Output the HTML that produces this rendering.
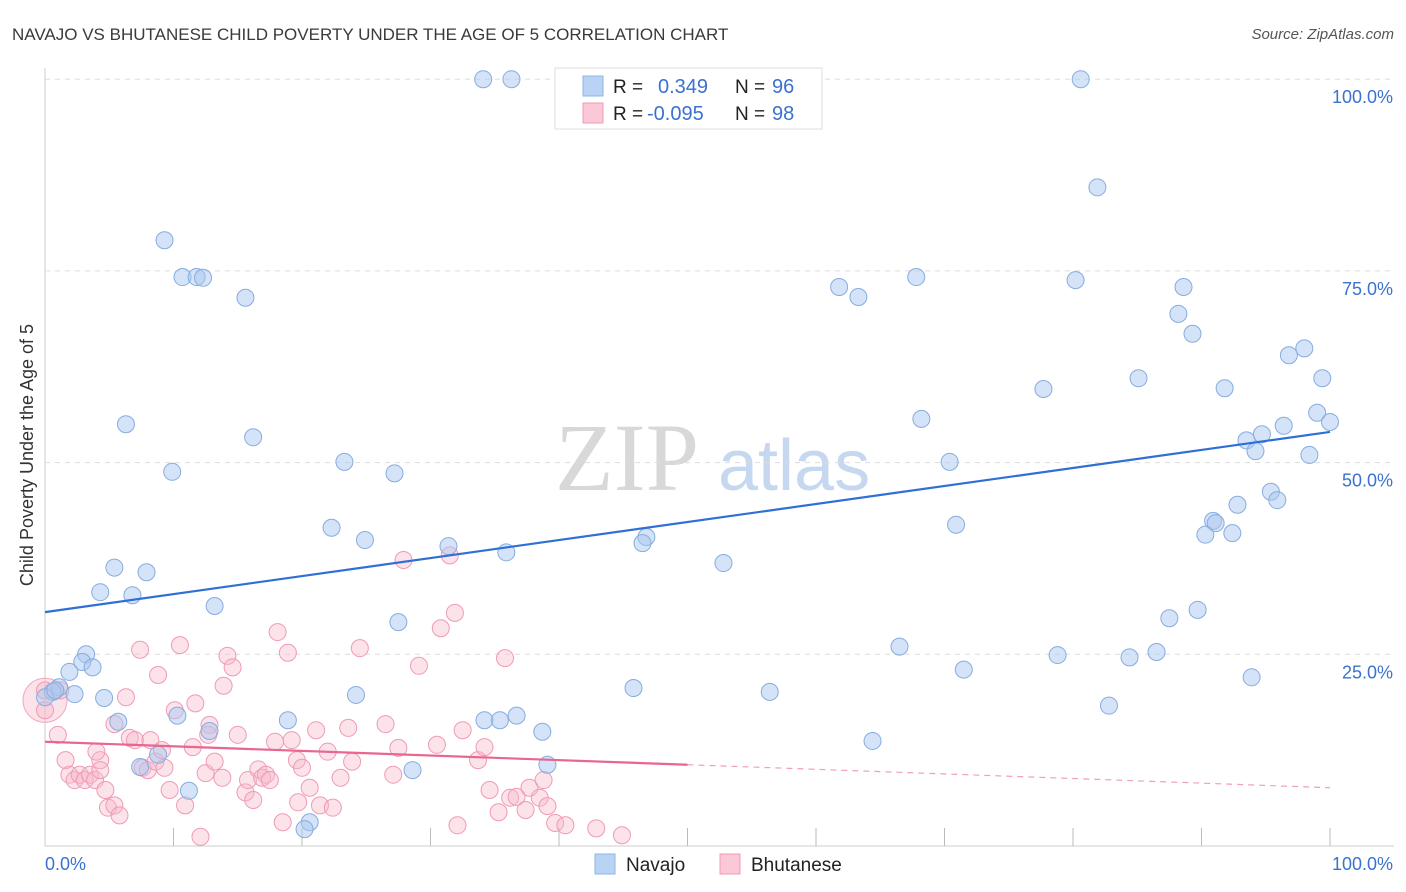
<!DOCTYPE html>
<html><head><meta charset="utf-8">
<style>
body{margin:0;background:#fff;font-family:"Liberation Sans",sans-serif;}
svg{display:block}
</style></head>
<body>
<svg id="chart" width="1406" height="892">
<text x="12" y="40" font-size="17" fill="#3a3a3a">NAVAJO VS BHUTANESE CHILD POVERTY UNDER THE AGE OF 5 CORRELATION CHART</text>
<text x="1394" y="39" font-size="15" fill="#555" font-style="italic" text-anchor="end">Source: ZipAtlas.com</text>
<text x="33" y="455" font-size="18" fill="#333" text-anchor="middle" transform="rotate(-90 33 455)">Child Poverty Under the Age of 5</text>
<text x="555" y="490" font-size="96" fill="#d8d8d8" font-family="Liberation Serif,serif">ZIP</text>
<text x="718" y="490" font-size="72" fill="#c5d8f0">atlas</text>
<g id="grid"></g><g id="pts"></g><g id="lines"></g>
<g>
<rect x="555" y="68" width="267" height="61" fill="#fff" stroke="#ddd"/>
<rect x="583" y="76" width="20" height="20" fill="#b9d3f5" stroke="#8fb4e8"/>
<rect x="583" y="103" width="20" height="20" fill="#fbc8d7" stroke="#f09ab5"/>
<text x="613" y="93" font-size="19" fill="#222">R =</text><text x="658" y="93" font-size="20" fill="#3a72cf">0.349</text>
<text x="735" y="93" font-size="19" fill="#222">N =</text><text x="772" y="93" font-size="20" fill="#3a72cf">96</text>
<text x="613" y="120" font-size="19" fill="#222">R =</text><text x="647" y="120" font-size="20" fill="#3a72cf">-0.095</text>
<text x="735" y="120" font-size="19" fill="#222">N =</text><text x="772" y="120" font-size="20" fill="#3a72cf">98</text>
</g>
<g>
<rect x="595" y="854" width="20" height="20" fill="#b9d3f5" stroke="#8fb4e8"/>
<text x="626" y="871" font-size="19" fill="#222">Navajo</text>
<rect x="720" y="854" width="20" height="20" fill="#fbc8d7" stroke="#f09ab5"/>
<text x="751" y="871" font-size="19" fill="#222">Bhutanese</text>
</g>
</svg>
<script>
const yTicks=[25,50,75,100];
const yTickLabels=["25.0%","50.0%","75.0%","100.0%"];
const xTicks=[10,20,30,40,50,60,70,80,90,100];
const navajoX=[34.1,36.3,40.5,80.6,81.9,9.3,10.7,11.8,12.3,15.6,61.8,63.3,67.8,80.2,88.6,88.2,89.3,98.0,96.8,99.4,85.1,77.7,91.8,99.0,100,68.2,6.3,16.2,96.4,94.7,93.5,94.2,98.4,70.4,23.3,9.9,27.2,95.4,95.9,92.8,90.9,91.1,90.3,92.4,70.9,22.3,24.9,31.4,46.8,46.5,35.9,52.8,5.4,7.9,4.3,6.8,13.2,89.7,87.5,27.5,66.5,3.2,2.9,3.7,1.9,78.8,84.4,86.5,71.5,93.9,1.1,0.6,2.3,4.6,24.2,45.8,56.4,82.8,18.9,5.7,10.3,34.2,35.4,36.7,38.7,12.8,64.4,7.4,8.8,39.1,28.6,11.2,20.6,20.2,0,0.8];
const navajoY=[100,100,100,100,85.9,79.0,74.2,74.2,74.1,71.5,72.9,71.6,74.2,73.8,72.9,69.4,66.8,64.9,64.0,61.0,61.0,59.6,59.7,56.5,55.3,55.7,55.0,53.3,54.8,53.7,52.9,51.5,51.0,50.1,50.1,48.8,48.6,46.2,45.1,44.5,42.4,42.1,40.6,40.8,41.9,41.5,39.9,39.1,40.3,39.5,38.3,36.9,36.3,35.7,33.1,32.7,31.3,30.8,29.7,29.2,26.0,25.0,24.0,23.3,22.7,24.9,24.6,25.3,23.0,22.0,20.7,20.1,19.8,19.3,19.7,20.6,20.1,18.3,16.4,16.2,17.0,16.4,16.4,17.0,14.9,15.0,13.7,10.3,11.9,10.6,9.9,7.2,3.1,2.2,19.4,20.3];
const bhutX=[0,0,1.2,1.0,1.6,1.9,2.3,2.7,3.1,3.5,3.9,4.3,4.3,4.7,4.9,5.4,5.8,4.0,6.3,5.4,7.4,6.6,7.0,8.2,7.6,8.0,8.6,9.3,8.8,9.1,10.1,10.5,9.7,10.9,12.1,11.7,11.5,12.5,12.8,12.7,13.2,13.8,13.9,14.2,14.6,15.0,15.6,15.8,16.2,16.6,16.9,17.2,17.5,18.1,17.9,18.5,18.9,19.2,19.6,20.0,19.7,20.6,21.1,21.4,22.0,22.4,23.0,23.6,23.9,24.5,26.5,27.1,27.5,27.9,29.1,30.8,31.9,30.5,31.5,32.1,32.5,33.7,34.2,34.6,35.3,35.8,36.2,36.7,37.4,37.7,38.5,38.8,39.1,39.7,40.5,42.9,44.9];
const bhutY=[20.3,17.7,20.3,14.5,11.2,9.3,8.6,9.3,8.6,9.3,8.6,11.2,9.9,7.3,5.0,5.3,4.0,12.3,19.4,15.9,25.6,14.1,13.8,13.8,10.2,9.9,11.0,10.2,22.3,12.5,17.7,26.2,7.3,5.3,1.2,18.6,12.9,9.5,15.8,14.5,11.0,8.9,20.9,24.8,23.3,14.5,7.0,8.6,6.0,10.0,8.9,9.3,8.6,27.9,13.6,3.1,25.2,13.8,11.2,10.2,5.7,7.6,15.1,5.3,12.3,5.0,8.9,15.4,11.0,25.8,15.9,9.3,12.8,37.3,23.5,28.4,30.4,13.2,37.9,2.7,15.1,11.2,12.9,7.3,4.4,24.5,6.3,6.4,4.7,7.6,6.3,8.6,5.2,3.0,2.7,2.3,1.4];
const navajoTrend=[30.5,54.0];
const bhutTrend=[13.6,10.6,7.6];

const NS="http://www.w3.org/2000/svg";
const X=v=>45+v*12.85, Y=v=>846-v*7.668;
function mk(t,a,p){const e=document.createElementNS(NS,t);for(const k in a)e.setAttribute(k,a[k]);p.appendChild(e);return e;}
const grid=document.getElementById('grid');
mk('line',{x1:45,y1:68,x2:45,y2:846,stroke:'#ccc'},grid);
mk('line',{x1:45,y1:846,x2:1394,y2:846,stroke:'#ccc'},grid);
yTicks.forEach((t,i)=>{
  const l=mk('line',{x1:45,y1:Y(t),x2:1394,y2:Y(t),stroke:'#ddd','stroke-dasharray':'5,5'},grid);
  
  
  const tx=mk('text',{x:1393,y:Y(t)+24,'font-size':18,fill:'#3a72cf','text-anchor':'end'},grid);
  tx.textContent=yTickLabels[i];
  
  
});
xTicks.forEach(t=>{
  const l=mk('line',{x1:X(t),y1:828,x2:X(t),y2:846,stroke:'#bbb'},grid);
  
  
});
const x0=mk('text',{x:45,y:870,'font-size':18,fill:'#3a72cf'},grid);x0.textContent='0.0%';


const x1=mk('text',{x:1393,y:870,'font-size':18,fill:'#3a72cf','text-anchor':'end'},grid);x1.textContent='100.0%';



const pts=document.getElementById('pts');
const big=mk('circle',{cx:X(0),cy:Y(19),r:22,fill:'rgba(247,184,203,0.4)',stroke:'#f3a9c0'},pts);


bhutX.forEach((v,i)=>{
  const c=mk('circle',{cx:X(v),cy:Y(bhutY[i]),r:8.5,fill:'rgba(247,184,203,0.4)',stroke:'#f09ab5','stroke-width':1},pts);
  
  
});
navajoX.forEach((v,i)=>{
  const c=mk('circle',{cx:X(v),cy:Y(navajoY[i]),r:8.5,fill:'rgba(169,200,240,0.5)',stroke:'#86addf','stroke-width':1},pts);
  
  
});
const lines=document.getElementById('lines');
const bl=mk('line',{x1:X(0),y1:Y(navajoTrend[0]),x2:X(100),y2:Y(navajoTrend[1]),stroke:'#2f6fd6','stroke-width':2.2},lines);


const pl=mk('line',{x1:X(0),y1:Y(bhutTrend[0]),x2:X(50),y2:Y(bhutTrend[1]),stroke:'#e8668f','stroke-width':2.2},lines);


const pd=mk('line',{x1:X(50),y1:Y(bhutTrend[1]),x2:X(100),y2:Y(bhutTrend[2]),stroke:'#eea0b8','stroke-width':1.2,'stroke-dasharray':'6,5'},lines);


</script>
</body></html>
